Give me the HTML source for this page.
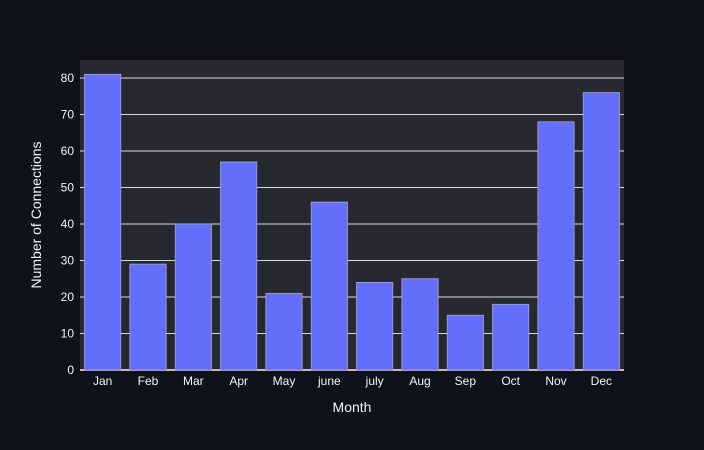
<!DOCTYPE html>
<html><head><meta charset="utf-8"><style>
body{margin:0;background:#0f121a;}
svg{display:block;font-family:"Liberation Sans",sans-serif;}
</style></head><body>
<svg id="chart" width="704" height="450">
<rect width="704" height="450" fill="#0f121a"/>
<rect x="80" y="60" width="544" height="310" fill="#282830"/>
<g id="grid"></g><g id="bars"></g><g id="xt"></g><g id="yt"></g>
<text x="352" y="412" fill="#f2f5fa" font-size="14" text-anchor="middle">Month</text>
<text x="0" y="0" transform="translate(41,215) rotate(-90)" fill="#f2f5fa" font-size="14" text-anchor="middle">Number of Connections</text>
</svg>
<script>
const categories=["Jan","Feb","Mar","Apr","May","june","july","Aug","Sep","Oct","Nov","Dec"];
const values=[81,29,40,57,21,46,24,25,15,18,68,76];
const yTicks=[0,10,20,30,40,50,60,70,80];
const NS="http://www.w3.org/2000/svg";
const x0=80,x1=624,yb=370,ppu=3.65;
const step=(x1-x0)/categories.length,bw=step*0.8;
const y=v=>yb-v*ppu;
function mk(t,a,p){const e=document.createElementNS(NS,t);for(const k in a)e.setAttribute(k,a[k]);document.getElementById(p).appendChild(e);return e;}
yTicks.forEach(v=>{
 if(v>0){const l=mk("line",{x1:x0,x2:x1,y1:y(v),y2:y(v),stroke:"#d8d8e0","stroke-width":1},"grid");
 
 }
 const t=mk("text",{x:x0-6,y:y(v)+4,fill:"#f2f5fa","font-size":12,"text-anchor":"end"},"yt");
 t.textContent=v;
 
 
});
categories.forEach((c,i)=>{
 const cx=x0+step*(i+0.5);
 const r=mk("rect",{x:cx-bw/2,y:y(values[i]),width:bw,height:values[i]*ppu,fill:"#636efa",stroke:"#a8a8c8","stroke-width":0.8},"bars");
 
 
 const t=mk("text",{x:cx,y:yb+15,fill:"#f2f5fa","font-size":12,"text-anchor":"middle"},"xt");
 t.textContent=c;
 
 
});
const ax=mk("line",{x1:x0,x2:x1,y1:yb,y2:yb,stroke:"#f2f5fa","stroke-width":1.5},"grid");


</script>
</body></html>
